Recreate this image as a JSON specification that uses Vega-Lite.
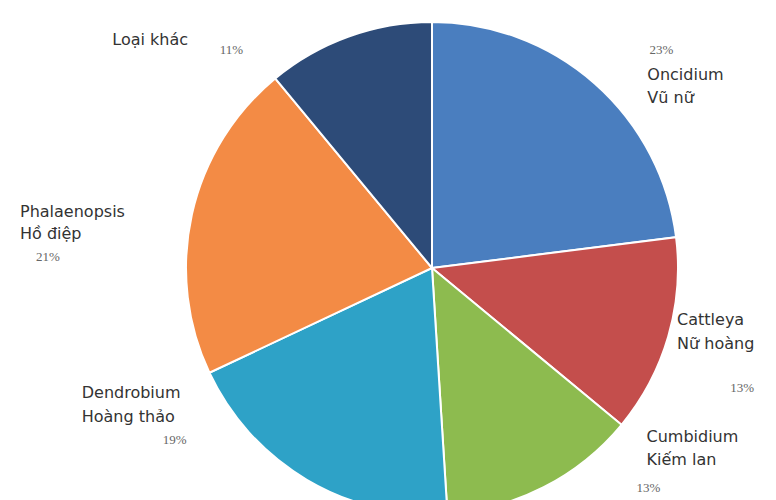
{
  "$schema": "https://vega.github.io/schema/vega-lite/v6.json",
  "autosize": "none",
  "width": 688,
  "height": 464,
  "padding": {"left": 88, "top": 36, "right": 0, "bottom": 0},
  "background": "white",
  "config": {"view": {"stroke": null}},
  "data": {"values": [
    {"rank": 1, "name": "Oncidium", "label": ["Oncidium", "Vũ nữ"], "pct": 23, "pctText": "23%"},
    {"rank": 2, "name": "Cattleya", "label": ["Cattleya", "Nữ hoàng"], "pct": 13, "pctText": "13%"},
    {"rank": 3, "name": "Cumbidium", "label": ["Cumbidium", "Kiếm lan"], "pct": 13, "pctText": "13%"},
    {"rank": 4, "name": "Dendrobium", "label": ["Dendrobium", "Hoàng thảo"], "pct": 19, "pctText": "19%"},
    {"rank": 5, "name": "Phalaenopsis", "label": ["Phalaenopsis", "Hồ điệp"], "pct": 21, "pctText": "21%"},
    {"rank": 6, "name": "Loại khác", "label": ["Loại khác"], "pct": 11, "pctText": "11%"}
  ]},
  "encoding": {
    "theta": {"field": "pct", "type": "quantitative", "stack": true},
    "order": {"field": "rank", "type": "quantitative"}
  },
  "layer": [
    {
      "mark": {"type": "arc", "outerRadius": 246, "stroke": "white", "strokeWidth": 2},
      "encoding": {
        "color": {
          "field": "name", "type": "nominal", "legend": null,
          "scale": {
            "domain": ["Oncidium", "Cattleya", "Cumbidium", "Dendrobium", "Phalaenopsis", "Loại khác"],
            "range": ["#4a7ebf", "#c44e4c", "#8dbb4f", "#2ea2c7", "#f38b45", "#2d4b78"]
          }
        }
      }
    },
    {"mark": {"type": "text", "radius": 250, "align": "left", "baseline": "alphabetic", "font": "DejaVu Sans", "fontSize": 16, "lineHeight": 23, "fill": "#333", "dx": 50, "dy": 0},
     "encoding": {"text": {"condition": {"test": "datum.rank == 1", "field": "label"}, "value": ""}}},
    {"mark": {"type": "text", "radius": 250, "align": "left", "baseline": "alphabetic", "font": "DejaVu Sans", "fontSize": 16, "lineHeight": 24, "fill": "#333", "dx": 5, "dy": -13},
     "encoding": {"text": {"condition": {"test": "datum.rank == 2", "field": "label"}, "value": ""}}},
    {"mark": {"type": "text", "radius": 250, "align": "left", "baseline": "alphabetic", "font": "DejaVu Sans", "fontSize": 16, "lineHeight": 23, "fill": "#333", "dx": 101, "dy": -49},
     "encoding": {"text": {"condition": {"test": "datum.rank == 3", "field": "label"}, "value": ""}}},
    {"mark": {"type": "text", "radius": 250, "align": "left", "baseline": "alphabetic", "font": "DejaVu Sans", "fontSize": 16, "lineHeight": 24, "fill": "#333", "dx": -223, "dy": -85},
     "encoding": {"text": {"condition": {"test": "datum.rank == 4", "field": "label"}, "value": ""}}},
    {"mark": {"type": "text", "radius": 250, "align": "left", "baseline": "alphabetic", "font": "DejaVu Sans", "fontSize": 16, "lineHeight": 22, "fill": "#333", "dx": -168, "dy": 4},
     "encoding": {"text": {"condition": {"test": "datum.rank == 5", "field": "label"}, "value": ""}}},
    {"mark": {"type": "text", "radius": 250, "align": "left", "baseline": "alphabetic", "font": "DejaVu Sans", "fontSize": 16, "lineHeight": 23, "fill": "#333", "dx": -235, "dy": 12},
     "encoding": {"text": {"condition": {"test": "datum.rank == 6", "field": "label"}, "value": ""}}},
    {"mark": {"type": "text", "radius": 250, "align": "center", "baseline": "alphabetic", "font": "Liberation Serif", "fontSize": 13, "fill": "#666", "dx": 64, "dy": -26},
     "encoding": {"text": {"condition": {"test": "datum.rank == 1", "field": "pctText"}, "value": ""}}},
    {"mark": {"type": "text", "radius": 250, "align": "center", "baseline": "alphabetic", "font": "Liberation Serif", "fontSize": 13, "fill": "#666", "dx": 70, "dy": 54},
     "encoding": {"text": {"condition": {"test": "datum.rank == 2", "field": "pctText"}, "value": ""}}},
    {"mark": {"type": "text", "radius": 250, "align": "center", "baseline": "alphabetic", "font": "Liberation Serif", "fontSize": 13, "fill": "#666", "dx": 103, "dy": 1},
     "encoding": {"text": {"condition": {"test": "datum.rank == 3", "field": "pctText"}, "value": ""}}},
    {"mark": {"type": "text", "radius": 250, "align": "center", "baseline": "alphabetic", "font": "Liberation Serif", "fontSize": 13, "fill": "#666", "dx": -130, "dy": -39},
     "encoding": {"text": {"condition": {"test": "datum.rank == 4", "field": "pctText"}, "value": ""}}},
    {"mark": {"type": "text", "radius": 250, "align": "center", "baseline": "alphabetic", "font": "Liberation Serif", "fontSize": 13, "fill": "#666", "dx": -140, "dy": 48},
     "encoding": {"text": {"condition": {"test": "datum.rank == 5", "field": "pctText"}, "value": ""}}},
    {"mark": {"type": "text", "radius": 250, "align": "center", "baseline": "alphabetic", "font": "Liberation Serif", "fontSize": 13, "fill": "#666", "dx": -116, "dy": 21},
     "encoding": {"text": {"condition": {"test": "datum.rank == 6", "field": "pctText"}, "value": ""}}}
  ]
}
